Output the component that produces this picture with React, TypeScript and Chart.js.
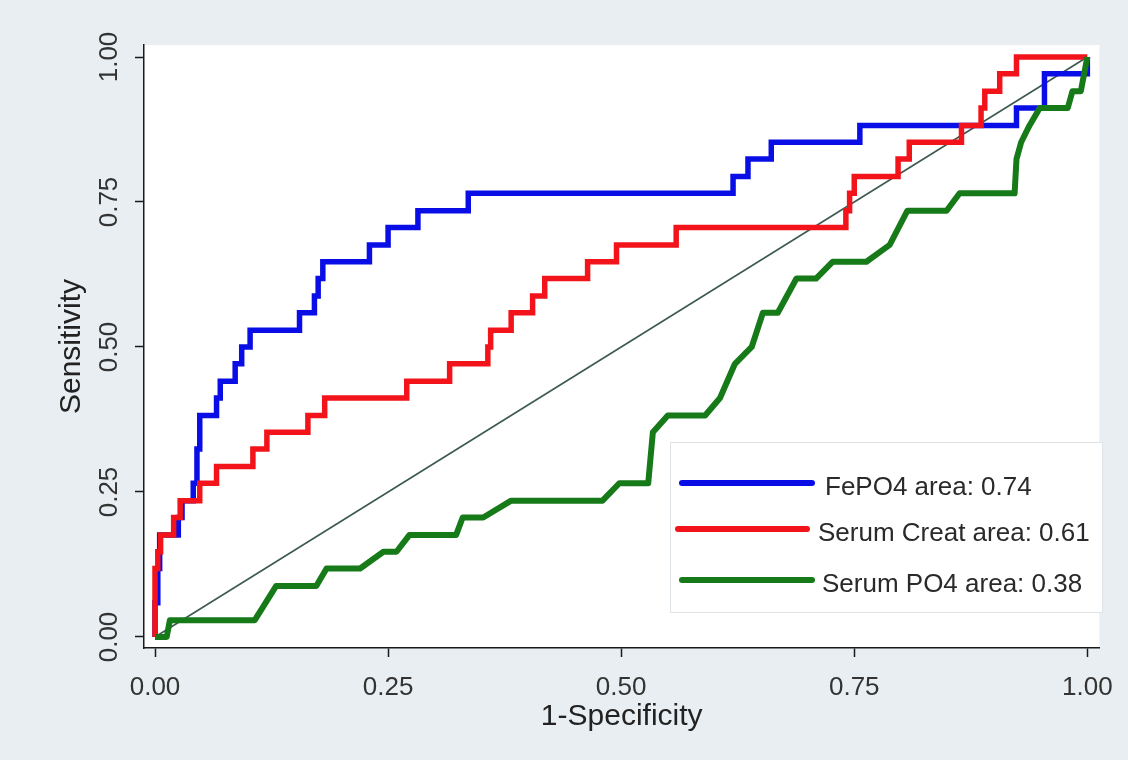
import React, { useEffect, useRef } from "react";
import { Chart, registerables } from "chart.js";

Chart.register(...registerables);

// ---- data ----
const TICK_VALUES = [0, 0.25, 0.5, 0.75, 1];
const X_TITLE = "1-Specificity";
const Y_TITLE = "Sensitivity";

const LEGEND_LABELS = ["FePO4 area: 0.74", "Serum Creat area: 0.61", "Serum PO4 area: 0.38"];

const FEPO4_X = [0, 0, 0.003, 0.003, 0.005, 0.005, 0.025, 0.025, 0.029, 0.029, 0.041, 0.041, 0.045, 0.045, 0.048, 0.048, 0.066, 0.066, 0.07, 0.07, 0.086, 0.086, 0.093, 0.093, 0.102, 0.102, 0.155, 0.155, 0.171, 0.171, 0.175, 0.175, 0.18, 0.18, 0.23, 0.23, 0.25, 0.25, 0.282, 0.282, 0.336, 0.336, 0.62, 0.62, 0.636, 0.636, 0.661, 0.661, 0.756, 0.756, 0.924, 0.924, 0.954, 0.954, 1, 1];
const FEPO4_Y = [0, 0.059, 0.059, 0.118, 0.118, 0.176, 0.176, 0.206, 0.206, 0.235, 0.235, 0.265, 0.265, 0.324, 0.324, 0.382, 0.382, 0.412, 0.412, 0.441, 0.441, 0.471, 0.471, 0.5, 0.5, 0.529, 0.529, 0.559, 0.559, 0.588, 0.588, 0.618, 0.618, 0.647, 0.647, 0.676, 0.676, 0.706, 0.706, 0.735, 0.735, 0.765, 0.765, 0.794, 0.794, 0.824, 0.824, 0.853, 0.853, 0.882, 0.882, 0.912, 0.912, 0.971, 0.971, 1];

const CREAT_X = [0, 0, 0.003, 0.003, 0.006, 0.006, 0.02, 0.02, 0.027, 0.027, 0.048, 0.048, 0.066, 0.066, 0.105, 0.105, 0.12, 0.12, 0.164, 0.164, 0.182, 0.182, 0.27, 0.27, 0.316, 0.316, 0.357, 0.357, 0.36, 0.36, 0.382, 0.382, 0.405, 0.405, 0.418, 0.418, 0.464, 0.464, 0.495, 0.495, 0.559, 0.559, 0.741, 0.741, 0.745, 0.745, 0.75, 0.75, 0.797, 0.797, 0.809, 0.809, 0.865, 0.865, 0.886, 0.886, 0.89, 0.89, 0.906, 0.906, 0.924, 0.924, 1];
const CREAT_Y = [0, 0.118, 0.118, 0.147, 0.147, 0.176, 0.176, 0.206, 0.206, 0.235, 0.235, 0.265, 0.265, 0.294, 0.294, 0.324, 0.324, 0.353, 0.353, 0.382, 0.382, 0.412, 0.412, 0.441, 0.441, 0.471, 0.471, 0.5, 0.5, 0.529, 0.529, 0.559, 0.559, 0.588, 0.588, 0.618, 0.618, 0.647, 0.647, 0.676, 0.676, 0.706, 0.706, 0.735, 0.735, 0.765, 0.765, 0.794, 0.794, 0.824, 0.824, 0.853, 0.853, 0.882, 0.882, 0.912, 0.912, 0.941, 0.941, 0.971, 0.971, 1, 1];

const PO4_X = [0, 0.0125, 0.016, 0.107, 0.13, 0.173, 0.184, 0.22, 0.245, 0.259, 0.273, 0.323, 0.33, 0.352, 0.382, 0.48, 0.498, 0.529, 0.534, 0.55, 0.59, 0.606, 0.622, 0.64, 0.652, 0.668, 0.688, 0.709, 0.727, 0.763, 0.788, 0.807, 0.849, 0.863, 0.922, 0.924, 0.929, 0.938, 0.949, 0.979, 0.984, 0.993, 1];
const PO4_Y = [0, 0, 0.029, 0.029, 0.088, 0.088, 0.118, 0.118, 0.147, 0.147, 0.176, 0.176, 0.206, 0.206, 0.235, 0.235, 0.265, 0.265, 0.353, 0.382, 0.382, 0.412, 0.471, 0.5, 0.559, 0.559, 0.618, 0.618, 0.647, 0.647, 0.676, 0.735, 0.735, 0.765, 0.765, 0.824, 0.853, 0.882, 0.912, 0.912, 0.941, 0.941, 1];

const REF_X = [0, 1];
const REF_Y = [0, 1];

const COLORS = ["#0a0ee6", "#f2141a", "#167a18"];
const REF_COLOR = "#3c5a50";
const FONT = '"Liberation Sans", Arial, Helvetica, sans-serif';

function pts(xs: number[], ys: number[]) {
  return xs.map((x, i) => ({ x, y: ys[i] }));
}

const bgPlugin = {
  id: "bgPlugin",
  beforeDraw(chart: any) {
    const { ctx, chartArea } = chart;
    ctx.save();
    ctx.fillStyle = "#e8eef1";
    ctx.fillRect(0, 0, chart.width, chart.height);
    ctx.fillStyle = "#ffffff";
    ctx.fillRect(chartArea.left, chartArea.top, chartArea.right - chartArea.left, chartArea.bottom - chartArea.top);
    ctx.restore();
  },
};

const legendPlugin = {
  id: "legendPlugin",
  afterDatasetsDraw(chart: any) {
    const { ctx } = chart;
    ctx.save();
    ctx.fillStyle = "#ffffff";
    ctx.fillRect(670, 442, 433, 171);
    ctx.strokeStyle = "#dde3e7";
    ctx.lineWidth = 1;
    ctx.strokeRect(670.5, 442.5, 432, 170);
    const rows = [
      { y: 483, x0: 682, x1: 812, tx: 825 },
      { y: 529, x0: 678, x1: 807, tx: 818 },
      { y: 580, x0: 682, x1: 812, tx: 822 },
    ];
    rows.forEach((r, i) => {
      ctx.strokeStyle = COLORS[i];
      ctx.lineWidth = 6;
      ctx.lineCap = "round";
      ctx.beginPath();
      ctx.moveTo(r.x0, r.y);
      ctx.lineTo(r.x1, r.y);
      ctx.stroke();
      ctx.fillStyle = "#2a2a2a";
      ctx.font = "26px " + FONT;
      ctx.textBaseline = "middle";
      ctx.textAlign = "left";
      ctx.fillText(LEGEND_LABELS[i], r.tx, r.y + 5);
    });
    ctx.restore();
  },
};

export default function App() {
  const ref = useRef<HTMLCanvasElement | null>(null);
  useEffect(() => {
    if (!ref.current) return;
    const common = { showLine: true, pointRadius: 0, pointHoverRadius: 0, fill: false, tension: 0 };
    const chart = new Chart(ref.current, {
      type: "scatter",
      data: {
        datasets: [
          { ...common, label: "ref", data: pts(REF_X, REF_Y), borderColor: REF_COLOR, borderWidth: 1.6, order: 4 },
          { ...common, label: LEGEND_LABELS[0], data: pts(FEPO4_X, FEPO4_Y), borderColor: COLORS[0], borderWidth: 5.5, borderJoinStyle: "miter", order: 3 },
          { ...common, label: LEGEND_LABELS[1], data: pts(CREAT_X, CREAT_Y), borderColor: COLORS[1], borderWidth: 5.5, borderJoinStyle: "miter", order: 2 },
          { ...common, label: LEGEND_LABELS[2], data: pts(PO4_X, PO4_Y), borderColor: COLORS[2], borderWidth: 6, borderJoinStyle: "round", order: 1 },
        ] as any,
      },
      options: {
        animation: false,
        responsive: false,
        events: [],
        layout: { padding: { top: 45, right: 28, left: 0, bottom: 0 } },
        plugins: { legend: { display: false }, tooltip: { enabled: false } },
        scales: {
          x: {
            type: "linear",
            min: -0.0118,
            max: 1.0129,
            afterBuildTicks: (s: any) => { s.ticks = TICK_VALUES.map((v) => ({ value: v })); },
            afterFit: (s: any) => { s.height = 112; },
            border: { display: true, color: "#1a1a1a", width: 1.5 },
            grid: { display: true, drawOnChartArea: false, drawTicks: true, tickLength: 9, tickColor: "#1a1a1a", tickWidth: 1.5 },
            ticks: {
              autoSkip: false,
              maxRotation: 0,
              minRotation: 0,
              padding: 15,
              color: "#333333",
              font: { family: FONT, size: 26 },
              callback: (v: any) => Number(v).toFixed(2),
            },
            title: { display: true, text: X_TITLE, color: "#222222", font: { family: FONT, size: 30 }, padding: { top: 0, bottom: 25 } },
          },
          y: {
            type: "linear",
            min: -0.019,
            max: 1.0207,
            afterBuildTicks: (s: any) => { s.ticks = TICK_VALUES.map((v) => ({ value: v })); },
            afterFit: (s: any) => { s.width = 144; },
            border: { display: true, color: "#1a1a1a", width: 1.5 },
            grid: { display: true, drawOnChartArea: false, drawTicks: true, tickLength: 9, tickColor: "#1a1a1a", tickWidth: 1.5 },
            ticks: {
              autoSkip: false,
              minRotation: 90,
              maxRotation: 90,
              crossAlign: "center",
              padding: 0,
              color: "#333333",
              font: { family: FONT, size: 26 },
              callback: (v: any) => Number(v).toFixed(2),
            },
            title: { display: true, text: Y_TITLE, color: "#222222", font: { family: FONT, size: 30 }, padding: { top: 54, bottom: 0 } },
          },
        },
      } as any,
      plugins: [bgPlugin, legendPlugin],
    });
    return () => chart.destroy();
  }, []);
  return (
    <div style={{ position: "fixed", left: 0, top: 0, width: 1128, height: 760 }}>
      <canvas ref={ref} width={1128} height={760} style={{ display: "block", width: 1128, height: 760 }} />
    </div>
  );
}
